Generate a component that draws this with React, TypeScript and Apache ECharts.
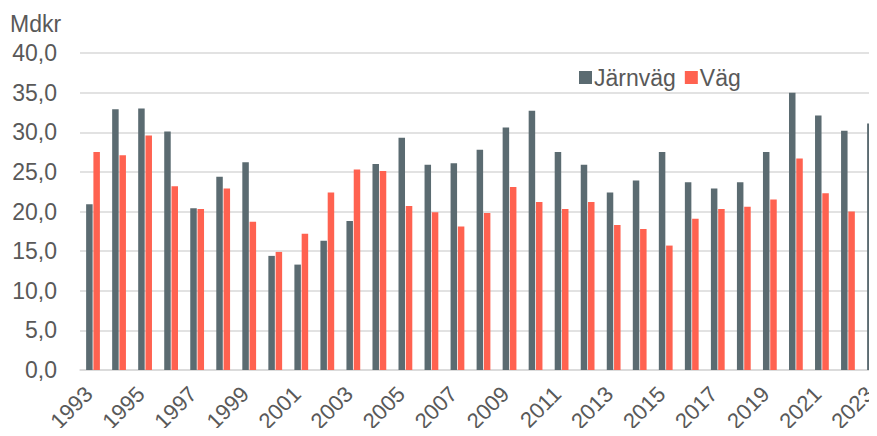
import React, { useEffect, useRef } from "react";
import * as echarts from "echarts";

const years = [
  "1993","1994","1995","1996","1997","1998","1999","2000","2001","2002",
  "2003","2004","2005","2006","2007","2008","2009","2010","2011","2012",
  "2013","2014","2015","2016","2017","2018","2019","2020","2021","2022","2023",
];
const jarnvag = [
  20.9, 32.9, 33.0, 30.1, 20.4, 24.4, 26.2, 14.4, 13.3, 16.3,
  18.8, 26.0, 29.3, 25.9, 26.1, 27.8, 30.6, 32.7, 27.5, 25.9,
  22.4, 23.9, 27.5, 23.7, 22.9, 23.7, 27.5, 35.0, 32.1, 30.2, 31.1,
];
const vag = [
  27.5, 27.1, 29.6, 23.2, 20.3, 22.9, 18.7, 14.9, 17.2, 22.4,
  25.3, 25.1, 20.7, 19.9, 18.1, 19.8, 23.1, 21.2, 20.3, 21.2,
  18.3, 17.8, 15.7, 19.1, 20.3, 20.6, 21.5, 26.7, 22.3, 20.0, 20.5,
];
const unitLabel = "Mdkr";

export default function App() {
  const ref = useRef<HTMLDivElement>(null);
  useEffect(() => {
    if (!ref.current) return;
    const chart = echarts.init(ref.current, undefined, { renderer: "svg" });
    const font = "'Liberation Sans', Arial, sans-serif";
    chart.setOption({
      animation: false,
      textStyle: { fontFamily: font },
      grid: { left: 80, right: 13, top: 53, bottom: 66, containLabel: false },
      legend: {
        left: 574,
        top: 61,
        icon: "rect",
        itemWidth: 13,
        itemHeight: 13,
        itemGap: 9,
        textStyle: { fontSize: 23, color: "#595959", fontFamily: font, padding: [0, 0, 0, -3] },
        data: ["Järnväg", "Väg"],
      },
      graphic: [
        {
          type: "text",
          left: 10,
          top: 12,
          style: { text: unitLabel, fontSize: 23, fill: "#595959", fontFamily: font },
        },
      ],
      xAxis: {
        type: "category",
        data: years,
        axisLine: { show: true, lineStyle: { color: "#d9d9d9", width: 1.5 } },
        axisTick: { show: false },
        axisLabel: {
          interval: 1,
          rotate: 45,
          fontSize: 22,
          color: "#595959",
          margin: 16,
          padding: [0, 6, 0, 0],
          fontFamily: font,
        },
      },
      yAxis: {
        type: "value",
        min: 0,
        max: 40,
        interval: 5,
        axisLine: { show: false },
        axisTick: { show: false },
        splitLine: { lineStyle: { color: "#d9d9d9", width: 1.5 } },
        axisLabel: {
          fontSize: 23,
          color: "#595959",
          margin: 23,
          fontFamily: font,
          formatter: (v: number) => v.toFixed(1).replace(".", ","),
        },
      },
      series: [
        {
          name: "Järnväg",
          type: "bar",
          data: jarnvag,
          barWidth: 6.5,
          barGap: "12%",
          itemStyle: { color: "#5b6b71" },
        },
        {
          name: "Väg",
          type: "bar",
          data: vag,
          barWidth: 6.5,
          itemStyle: { color: "#ff6250" },
        },
      ],
    });
    return () => chart.dispose();
  }, []);
  return (
    <div style={{ width: 877, height: 436, margin: -8, overflow: "hidden", position: "relative" }}>
      <div ref={ref} style={{ width: 900, height: 436 }} />
    </div>
  );
}
